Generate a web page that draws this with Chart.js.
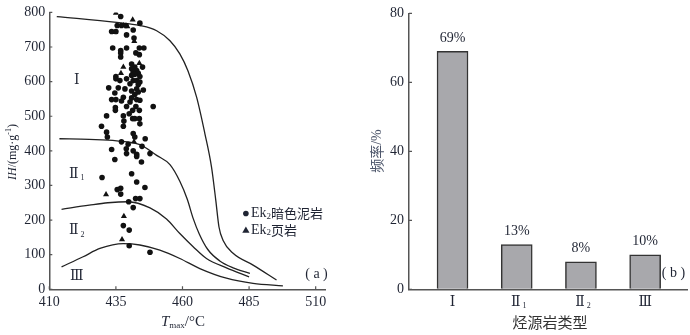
<!DOCTYPE html>
<html>
<head>
<meta charset="utf-8">
<script src="https://cdn.jsdelivr.net/npm/chart.js@4.4.0/dist/chart.umd.min.js"></script>
<style>
html, body { margin: 0; padding: 0; background: #fff; }
.panel { position: absolute; top: 0; width: 345px; height: 335px; }
#panelA { left: 0; }
#panelB { left: 345px; }
</style>
</head>
<body>
<div class="panel" id="panelA"><canvas id="chartA" width="345" height="335"></canvas></div>
<div class="panel" id="panelB"><canvas id="chartB" width="345" height="335"></canvas></div>
<script>
// (a) Tmax - HI 散點：Ek2 暗色泥岩
const mudstoneTmax = [436.8, 444, 435.5, 437.1, 438.8, 441.5, 433.4, 435, 439, 441.8,
    433.8, 439, 443.8, 445.5, 436.8, 436.8, 442.5, 443.8, 436.8, 440.9,
    442.1, 445, 440.9, 442.8, 441.5, 443.4, 442.1, 440.9, 444, 435,
    435, 439, 436.5, 441.5, 442.8, 444, 440.3, 443.4, 432.3, 435.9,
    438.4, 442.8, 445.3, 440.9, 443.4, 434.6, 442.1, 437.8, 440.9, 433.4,
    435, 442.8, 444, 437.1, 440.3, 439, 442.5, 449, 434.8, 434.8,
    441.3, 443.8, 440, 431.5, 437.8, 441.3, 442.1, 443.8, 438, 444,
    429.6, 437.8, 431.5, 441.5, 431.8, 442.1, 446, 437.1, 439.6, 444.8,
    438.9, 433.4, 441.5, 439, 447.8, 442.8, 442.8, 434.6, 444.6, 440.9,
    429.8, 442.8, 445.9, 435.5, 436.8, 436.8, 442.4, 444, 439.8, 441.5,
    437.8, 440, 440, 447.8];
const mudstoneHI = [788, 769, 762, 762, 762, 749, 745, 745, 735, 726,
    697, 697, 697, 697, 690, 683, 683, 678, 671, 651,
    642, 642, 637, 632, 627, 624, 621, 618, 615, 615,
    608, 608, 603, 603, 603, 599, 594, 592, 582, 582,
    579, 579, 576, 573, 570, 567, 563, 555, 553, 548,
    548, 548, 546, 544, 541, 528, 528, 528, 525, 517,
    517, 517, 507, 501, 501, 493, 493, 493, 486, 478,
    471, 471, 454, 450, 440, 440, 435, 426, 419, 413,
    406, 404, 400, 392, 392, 390, 384, 375, 368, 334,
    323, 310, 294, 288, 292, 275, 262, 262, 253, 236,
    184, 171, 126, 107];

// Ek2 頁岩
const shaleTmax = [435, 441.3, 437.8, 439.3, 434.8, 441.9, 443.8, 437.8, 436.9, 441.8, 431.3, 438, 437.3];
const shaleHI = [798, 779, 762, 759, 743, 717, 653, 642, 624, 426, 274, 211, 144];

// 干酪根類型分界線
const lineI_T = [412.8, 435.3, 444, 450.3, 455.3, 459, 462, 465.3, 468.4, 470.9, 472.5, 473.7, 475.2, 479, 486.5, 495.3];
const lineI_HI = [788, 771, 762, 747, 718, 680, 632, 555, 450, 353, 257, 180, 142, 104, 70, 27];
const lineII1_T = [413.8, 425, 435.3, 444, 450.3, 455.3, 459, 461.8, 464, 466.3, 469.5, 474, 479, 485.3];
const lineII1_HI = [435, 433, 429, 418, 387, 360, 312, 260, 205, 160, 115, 82, 62, 46];
const lineII2_T = [414.6, 425, 432, 439.6, 447.8, 454, 459, 464, 469, 476.5, 485];
const lineII2_HI = [231, 243, 250, 253, 235, 203, 161, 123, 89, 62, 36];
const lineIII_T = [414.6, 422.7, 429, 437.8, 444, 451.5, 459, 466.5, 476.5, 486.5, 497.7];
const lineIII_HI = [65, 94, 118, 132, 128, 113, 89, 60, 32, 17, 10];

const tmaxTicks = [410, 435, 460, 485, 510];

// (b) 烴源岩類型頻率
const rockTypes = ['Ⅰ', 'Ⅱ', 'Ⅱ', 'Ⅲ'];
const rockSubs = ['', '1', '2', ''];
const frequency = [69, 13, 8, 10];

const SERIF = "'Liberation Serif', 'DejaVu Serif', serif";
const CJK = "'Noto Sans CJK SC', sans-serif";
const INK = '#1f2433';
const AXIS = '#555';

function font(size, style) {
    return (style ? style + ' ' : '') + size + 'px ' + SERIF;
}

function toPoints(xs, ys) {
    return xs.map((x, i) => ({ x: x, y: ys[i] }));
}

// 逐段繪製帶上下標的文字
function drawParts(ctx, parts, x, y, align) {
    let w = 0;
    parts.forEach(p => { ctx.font = p[1]; w += ctx.measureText(p[0]).width; });
    let cx = align === 'center' ? x - w / 2 : (align === 'right' ? x - w : x);
    ctx.textAlign = 'left';
    ctx.textBaseline = 'middle';
    parts.forEach(p => {
        ctx.font = p[1];
        ctx.fillText(p[0], cx, y + (p[2] || 0));
        cx += ctx.measureText(p[0]).width;
    });
}

function romanParts(name, sub, size) {
    const parts = [[name, size + "px 'DejaVu Serif', serif"]];
    if (sub) parts.push([' ' + sub, font(Math.round(size * 0.6)), size * 0.3]);
    return parts;
}

// 刻度線朝內
const inwardTicks = {
    id: 'inwardTicks',
    afterDatasetsDraw(chart, args, opts) {
        const { ctx, chartArea: a } = chart;
        const xs = chart.scales.x, ys = chart.scales.y;
        ctx.save();
        ctx.strokeStyle = AXIS;
        ctx.lineWidth = 1.2;
        ctx.beginPath();
        if (opts.x) {
            xs.ticks.forEach(t => {
                const px = xs.getPixelForValue(t.value);
                ctx.moveTo(px, a.bottom);
                ctx.lineTo(px, a.bottom - opts.len);
            });
        }
        ys.ticks.forEach(t => {
            const py = ys.getPixelForValue(t.value);
            ctx.moveTo(a.left, py);
            ctx.lineTo(a.left + opts.len, py);
        });
        ctx.stroke();
        ctx.restore();
    }
};

const panelAText = {
    id: 'panelAText',
    afterDraw(chart) {
        const { ctx } = chart;
        const xs = chart.scales.x, ys = chart.scales.y;
        ctx.save();
        ctx.fillStyle = INK;

        // 區域標註
        const regions = [[603, 0], [333, 1], [170, 2], [36, 3]];
        regions.forEach(r => {
            const px = xs.getPixelForValue(420.3);
            const py = ys.getPixelForValue(r[0]);
            drawParts(ctx, romanParts(rockTypes[r[1]], rockSubs[r[1]], 14), px, py, 'center');
        });

        // 圖例
        const lx = xs.getPixelForValue(483.8);
        const ly1 = ys.getPixelForValue(219);
        const ly2 = ys.getPixelForValue(171);
        ctx.beginPath();
        ctx.arc(lx, ly1, 2.8, 0, Math.PI * 2);
        ctx.fill();
        ctx.beginPath();
        ctx.moveTo(lx, ly2 - 3.5);
        ctx.lineTo(lx + 3.6, ly2 + 2.6);
        ctx.lineTo(lx - 3.6, ly2 + 2.6);
        ctx.closePath();
        ctx.fill();
        drawParts(ctx, [['Ek', font(14)], ['2', font(9), 3], ['暗色泥岩', '13px ' + CJK]], lx + 5, ly1, 'left');
        drawParts(ctx, [['Ek', font(14)], ['2', font(9), 3], ['页岩', '13px ' + CJK]], lx + 5, ly2, 'left');

        // (a)
        drawParts(ctx, [['(', font(14)], [' a ', font(14)], [')', font(14)]], 316.5, 274.5, 'center');

        // 軸標題
        drawParts(ctx, [['T', font(15, 'italic')], ['max', font(9), 4], ['/°C', font(15)]], 183, 322, 'center');
        ctx.translate(13, 152);
        ctx.rotate(-Math.PI / 2);
        drawParts(ctx, [['IH', font(12, 'italic')], ['/(mg·g', font(12)], ['-1', font(8), -4], [')', font(12)]], 0, 0, 'center');
        ctx.restore();
    }
};

const panelBText = {
    id: 'panelBText',
    afterDraw(chart) {
        const { ctx } = chart;
        const xs = chart.scales.x;
        const meta = chart.getDatasetMeta(0);
        ctx.save();
        ctx.fillStyle = INK;

        // 柱頂百分比
        meta.data.forEach((bar, i) => {
            ctx.font = font(14);
            ctx.textAlign = 'center';
            ctx.textBaseline = 'bottom';
            ctx.fillText(frequency[i] + '%', bar.x, bar.y - 6);
        });

        // 類型標籤
        rockTypes.forEach((name, i) => {
            const px = xs.getPixelForValue(i);
            drawParts(ctx, romanParts(name, rockSubs[i], 14), px + (rockSubs[i] ? 2 : 0), 302, 'center');
        });

        drawParts(ctx, [['(', font(14)], [' b ', font(14)], [')', font(14)]], 328.5, 273, 'center');

        ctx.fillStyle = '#333';
        ctx.font = '15px ' + CJK;
        ctx.textAlign = 'center';
        ctx.textBaseline = 'middle';
        ctx.fillText('烃源岩类型', 205, 322);

        ctx.fillStyle = '#4d566b';
        ctx.translate(32, 151);
        ctx.rotate(-Math.PI / 2);
        drawParts(ctx, [['频率', '14px ' + CJK], ['/%', font(14)]], 0, 0, 'center');
        ctx.restore();
    }
};

function axisCommon(extra) {
    return Object.assign({
        grid: { display: true, drawOnChartArea: false, drawTicks: false },
        border: { display: true, color: AXIS, width: 1.5 }
    }, extra);
}

Chart.defaults.animation = false;

new Chart(document.getElementById('chartA'), {
    type: 'scatter',
    data: {
        datasets: [
            { data: toPoints(mudstoneTmax, mudstoneHI), pointStyle: 'circle', pointRadius: 2.8, backgroundColor: '#111', borderWidth: 0 },
            { data: toPoints(shaleTmax, shaleHI), pointStyle: 'triangle', pointRadius: 3.5, backgroundColor: '#111', borderWidth: 0 },
            { data: toPoints(lineI_T, lineI_HI), showLine: true, pointRadius: 0, borderColor: '#222', borderWidth: 1.3, cubicInterpolationMode: 'monotone' },
            { data: toPoints(lineII1_T, lineII1_HI), showLine: true, pointRadius: 0, borderColor: '#222', borderWidth: 1.3, cubicInterpolationMode: 'monotone' },
            { data: toPoints(lineII2_T, lineII2_HI), showLine: true, pointRadius: 0, borderColor: '#222', borderWidth: 1.3, cubicInterpolationMode: 'monotone' },
            { data: toPoints(lineIII_T, lineIII_HI), showLine: true, pointRadius: 0, borderColor: '#222', borderWidth: 1.3, cubicInterpolationMode: 'monotone' }
        ]
    },
    options: {
        responsive: false,
        layout: { padding: { left: 0, right: 20, top: 11.7, bottom: 0 } },
        plugins: { legend: { display: false }, tooltip: { enabled: false }, inwardTicks: { x: true, len: 3 } },
        scales: {
            x: axisCommon({
                type: 'linear', min: 410, max: 513.5,
                afterBuildTicks: s => { s.ticks = tmaxTicks.map(v => ({ value: v })); },
                afterFit: s => { s.height = 45.7; },
                ticks: { font: { family: SERIF, size: 14 }, color: INK, padding: 5, maxRotation: 0, autoSkip: false }
            }),
            y: axisCommon({
                min: 0, max: 800,
                afterFit: s => { s.width = 49.3; },
                ticks: { stepSize: 100, font: { family: SERIF, size: 14 }, color: INK, padding: 4 }
            })
        }
    },
    plugins: [inwardTicks, panelAText]
});

new Chart(document.getElementById('chartB'), {
    type: 'bar',
    data: {
        datasets: [{
            data: frequency.map((v, i) => ({ x: i, y: v })),
            backgroundColor: '#a8a8ac',
            borderColor: '#333',
            borderWidth: 1.5,
            barThickness: 31
        }]
    },
    options: {
        responsive: false,
        layout: { padding: { left: 0, right: 3, top: 11.7, bottom: 0 } },
        plugins: { legend: { display: false }, tooltip: { enabled: false }, inwardTicks: { x: false, len: 3 } },
        scales: {
            x: axisCommon({
                type: 'linear', min: -0.678, max: 3.652, offset: false,
                afterFit: s => { s.height = 45.7; },
                ticks: { display: false }
            }),
            y: axisCommon({
                min: 0, max: 80,
                afterFit: s => { s.width = 64; },
                ticks: { stepSize: 20, font: { family: SERIF, size: 14 }, color: INK, padding: 5 }
            })
        }
    },
    plugins: [inwardTicks, panelBText]
});
</script>
</body>
</html>
